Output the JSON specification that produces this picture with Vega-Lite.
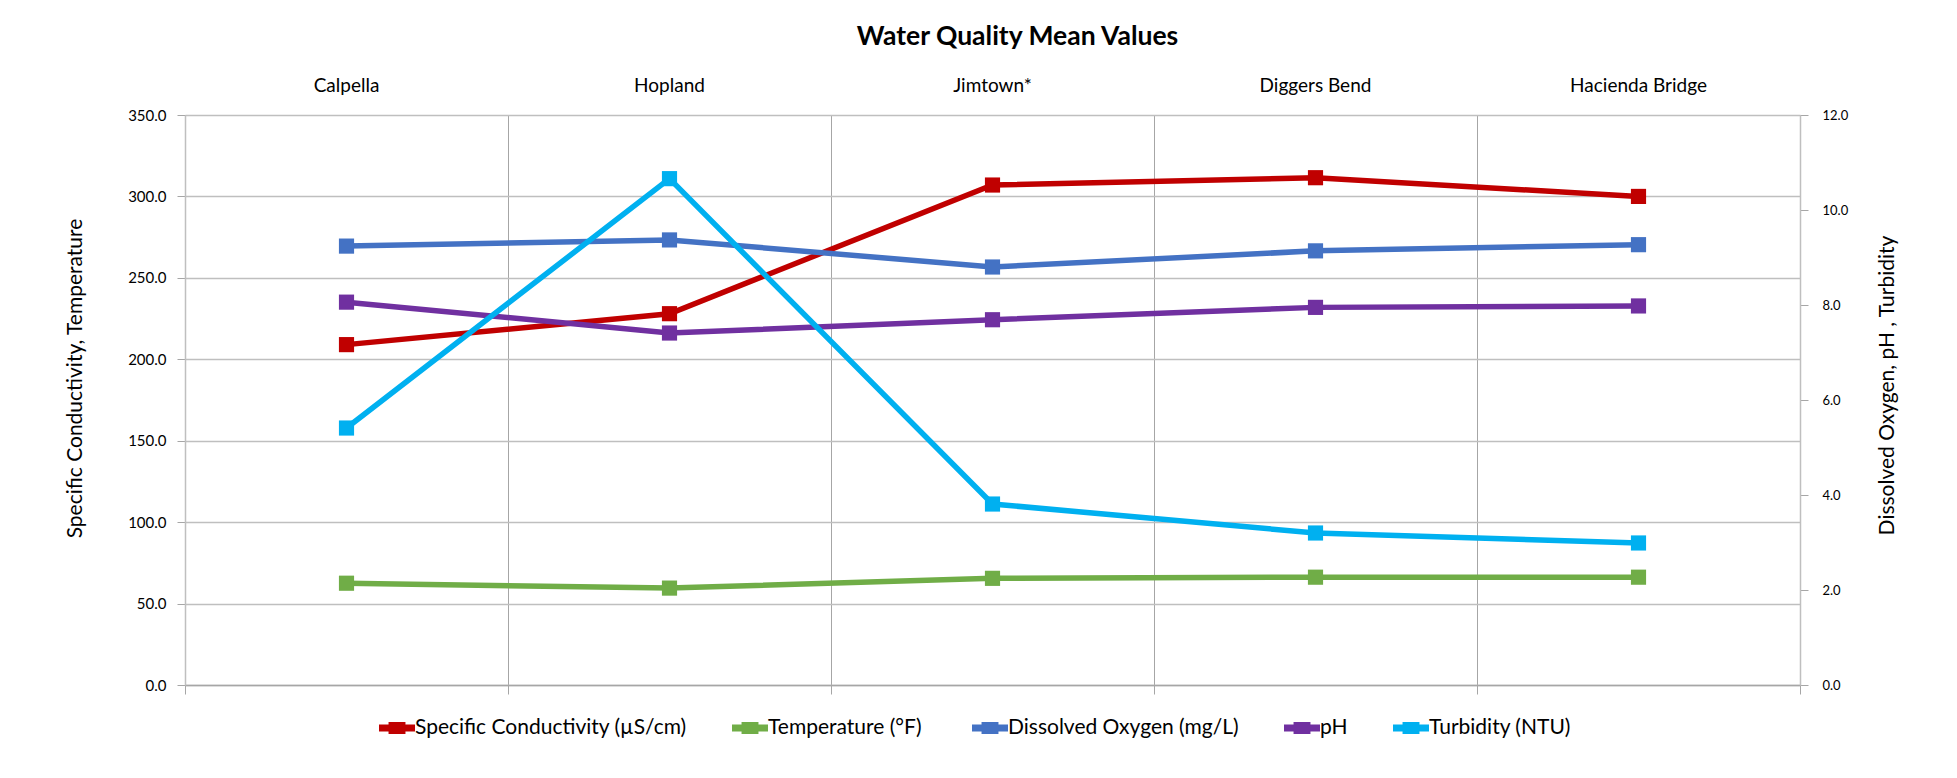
{
  "$schema": "https://vega.github.io/schema/vega-lite/v6.json",
  "autosize": {"type": "none"},
  "width": 1615,
  "height": 570,
  "padding": {"left": 185, "top": 115, "right": 157, "bottom": 93},
  "background": "white",
  "config": {
    "font": "Lato",
    "view": {"stroke": null},
    "axis": {"labelColor": "black", "titleColor": "black", "titleFontWeight": "normal", "labelFont": "Lato", "titleFont": "Lato"}
  },
  "title": {
    "text": "Water Quality Mean Values",
    "fontSize": 26.5,
    "fontWeight": "bold",
    "color": "black",
    "anchor": "middle",
    "frame": "group",
    "offset": 26,
    "dx": 25
  },
  "data": {
    "values": [
      {"site": "Calpella", "measure": "Specific Conductivity (µS/cm)", "value": 209, "axis": "left"},
      {"site": "Hopland", "measure": "Specific Conductivity (µS/cm)", "value": 228, "axis": "left"},
      {"site": "Jimtown*", "measure": "Specific Conductivity (µS/cm)", "value": 307, "axis": "left"},
      {"site": "Diggers Bend", "measure": "Specific Conductivity (µS/cm)", "value": 311.5, "axis": "left"},
      {"site": "Hacienda Bridge", "measure": "Specific Conductivity (µS/cm)", "value": 300, "axis": "left"},
      {"site": "Calpella", "measure": "Temperature  (°F)", "value": 62.5, "axis": "left"},
      {"site": "Hopland", "measure": "Temperature  (°F)", "value": 59.5, "axis": "left"},
      {"site": "Jimtown*", "measure": "Temperature  (°F)", "value": 65.5, "axis": "left"},
      {"site": "Diggers Bend", "measure": "Temperature  (°F)", "value": 66.2, "axis": "left"},
      {"site": "Hacienda Bridge", "measure": "Temperature  (°F)", "value": 66.2, "axis": "left"},
      {"site": "Calpella", "measure": "Dissolved Oxygen (mg/L)", "value": 9.24, "axis": "right"},
      {"site": "Hopland", "measure": "Dissolved Oxygen (mg/L)", "value": 9.37, "axis": "right"},
      {"site": "Jimtown*", "measure": "Dissolved Oxygen (mg/L)", "value": 8.8, "axis": "right"},
      {"site": "Diggers Bend", "measure": "Dissolved Oxygen (mg/L)", "value": 9.14, "axis": "right"},
      {"site": "Hacienda Bridge", "measure": "Dissolved Oxygen (mg/L)", "value": 9.27, "axis": "right"},
      {"site": "Calpella", "measure": "pH", "value": 8.06, "axis": "right"},
      {"site": "Hopland", "measure": "pH", "value": 7.41, "axis": "right"},
      {"site": "Jimtown*", "measure": "pH", "value": 7.69, "axis": "right"},
      {"site": "Diggers Bend", "measure": "pH", "value": 7.95, "axis": "right"},
      {"site": "Hacienda Bridge", "measure": "pH", "value": 7.98, "axis": "right"},
      {"site": "Calpella", "measure": "Turbidity (NTU)", "value": 5.41, "axis": "right"},
      {"site": "Hopland", "measure": "Turbidity (NTU)", "value": 10.66, "axis": "right"},
      {"site": "Jimtown*", "measure": "Turbidity (NTU)", "value": 3.81, "axis": "right"},
      {"site": "Diggers Bend", "measure": "Turbidity (NTU)", "value": 3.2, "axis": "right"},
      {"site": "Hacienda Bridge", "measure": "Turbidity (NTU)", "value": 2.99, "axis": "right"}
    ]
  },
  "encoding": {
    "color": {
      "field": "measure",
      "type": "nominal",
      "scale": {
        "domain": ["Specific Conductivity (µS/cm)", "Temperature  (°F)", "Dissolved Oxygen (mg/L)", "pH", "Turbidity (NTU)"],
        "range": ["#C00000", "#70AD47", "#4472C4", "#7030A0", "#00B0F0"]
      },
      "legend": {
        "title": null,
        "orient": "none",
        "legendX": 194,
        "legendY": 595,
        "direction": "horizontal",
        "columns": 5,
        "columnPadding": 45,
        "labelFontSize": 21,
        "labelLimit": 0,
        "labelColor": "black",
        "labelOffset": 0,
        "symbolType": "M-1,-0.19H-0.47V-0.34H0.47V-0.19H1V0.19H0.47V0.34H-0.47V0.19H-1Z",
        "symbolSize": 1296,
        "symbolStrokeWidth": 0,
        "encode": {"symbols": {"update": {"fill": {"scale": "color", "field": "value"}, "fillOpacity": {"value": 1}, "strokeWidth": {"value": 0}}}}
      }
    }
  },
  "layer": [
    {
      "transform": [{"filter": "datum.axis === 'left'"}],
      "mark": {"type": "line", "strokeWidth": 5.5, "point": {"filled": true, "shape": "square", "size": 230, "opacity": 1}},
      "encoding": {
        "x": {
          "field": "site",
          "type": "nominal",
          "sort": ["Calpella", "Hopland", "Jimtown*", "Diggers Bend", "Hacienda Bridge"],
          "scale": {"type": "band", "paddingInner": 0, "paddingOuter": 0},
          "bandPosition": 0.5,
          "axis": {
            "orient": "bottom",
            "title": null,
            "labels": false,
            "ticks": true,
            "tickBand": "extent",
            "tickSize": 9,
            "tickColor": "#a6a6a6",
            "domainColor": "#a6a6a6",
            "domainWidth": 1.5,
            "grid": true,
            "gridColor": "#a6a6a6",
            "gridWidth": 1
          }
        },
        "y": {
          "field": "value",
          "type": "quantitative",
          "scale": {"domain": [0, 350], "nice": false, "zero": true},
          "axis": {
            "orient": "left",
            "values": [0, 50, 100, 150, 200, 250, 300, 350],
            "format": ".1f",
            "title": "Specific Conductivity, Temperature",
            "titleFontSize": 21,
            "titlePadding": 42,
            "titleY": 263,
            "labelFontSize": 15,
            "labelPadding": 11,
            "tickSize": 8,
            "tickColor": "#a6a6a6",
            "domainColor": "#bfbfbf",
            "domainWidth": 1.5,
            "grid": true,
            "gridColor": "#bfbfbf",
            "gridWidth": 1.5
          }
        }
      }
    },
    {
      "transform": [{"filter": "datum.axis === 'right'"}],
      "mark": {"type": "line", "strokeWidth": 5.5, "point": {"filled": true, "shape": "square", "size": 230, "opacity": 1}},
      "encoding": {
        "x": {
          "field": "site",
          "type": "nominal",
          "sort": ["Calpella", "Hopland", "Jimtown*", "Diggers Bend", "Hacienda Bridge"],
          "scale": {"type": "band", "paddingInner": 0, "paddingOuter": 0},
          "bandPosition": 0.5,
          "axis": {
            "orient": "top",
            "title": null,
            "labels": true,
            "labelFontSize": 19,
            "labelPadding": 20,
            "labelAngle": 0,
            "ticks": false,
            "domain": false,
            "grid": false
          }
        },
        "y": {
          "field": "value",
          "type": "quantitative",
          "scale": {"domain": [0, 12], "nice": false, "zero": true},
          "axis": {
            "orient": "right",
            "values": [0, 2, 4, 6, 8, 10, 12],
            "format": ".1f",
            "title": "Dissolved Oxygen, pH , Turbidity",
            "titleAngle": -90,
            "titleFontSize": 21,
            "titlePadding": 50,
            "titleY": 270,
            "labelFontSize": 13,
            "labelPadding": 14,
            "tickSize": 8,
            "tickColor": "#a6a6a6",
            "domainColor": "#bfbfbf",
            "domainWidth": 1.5,
            "grid": false
          }
        }
      }
    }
  ],
  "resolve": {"scale": {"y": "independent"}, "axis": {"x": "independent"}}
}
